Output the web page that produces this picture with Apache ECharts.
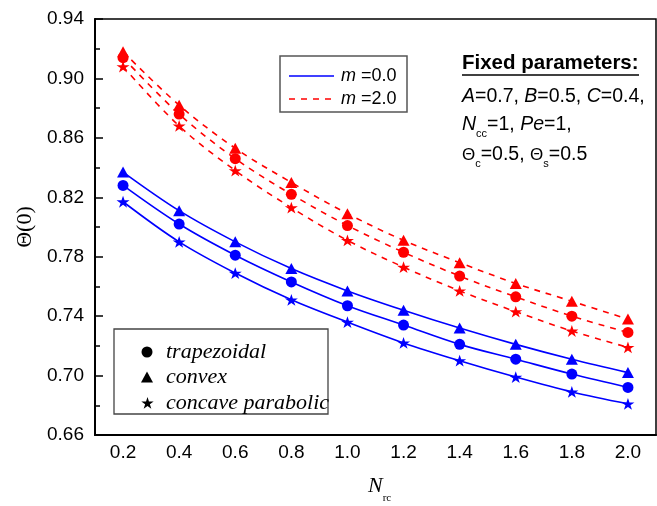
<!DOCTYPE html>
<html><head><meta charset="utf-8">
<script src="https://cdn.jsdelivr.net/npm/echarts@6/dist/echarts.min.js"></script>
<style>html,body{margin:0;padding:0;background:#fff}#c{width:657px;height:506px}</style>
</head><body><div id="c"></div>
<script>
// ---- data ----
const nrc = [0.2, 0.4, 0.6, 0.8, 1.0, 1.2, 1.4, 1.6, 1.8, 2.0];
const m0Convex      = [0.837, 0.811, 0.790, 0.772, 0.757, 0.744, 0.732, 0.721, 0.711, 0.702];
const m0Trapezoidal = [0.828, 0.802, 0.781, 0.763, 0.747, 0.734, 0.721, 0.711, 0.701, 0.692];
const m0Concave     = [0.817, 0.790, 0.769, 0.751, 0.736, 0.722, 0.710, 0.699, 0.689, 0.681];
const m2Convex      = [0.918, 0.882, 0.853, 0.830, 0.809, 0.791, 0.776, 0.762, 0.750, 0.738];
const m2Trapezoidal = [0.914, 0.876, 0.846, 0.822, 0.801, 0.783, 0.767, 0.753, 0.740, 0.729];
const m2Concave     = [0.908, 0.868, 0.838, 0.813, 0.791, 0.773, 0.757, 0.743, 0.730, 0.719];
const yTicks = [0.66, 0.70, 0.74, 0.78, 0.82, 0.86, 0.90, 0.94];
const xLabels = nrc.map(v => v.toFixed(1));

const STAR = 'path://M0,-1 L0.2245,-0.309 L0.951,-0.309 L0.3633,0.118 L0.5878,0.809 L0,0.382 L-0.5878,0.809 L-0.3633,0.118 L-0.951,-0.309 L-0.2245,-0.309 Z';
const BLUE = '#0000ff', RED = '#ff0000';
const sans = '"Liberation Sans", Arial, sans-serif';
const serif = '"Liberation Serif", "Times New Roman", serif';

function mk(name, data, color, dashed, symbol, size) {
  return {
    name, type: 'line', data, smooth: 0.35,
    symbol, symbolSize: size, symbolKeepAspect: true, showSymbol: true,
    itemStyle: {color: color, borderWidth: 0},
    lineStyle: {color: color, width: 1.6, type: dashed ? [6, 6] : 'solid'},
    emphasis: {disabled: true}, animation: false
  };
}

// lay out text runs (for subscripts) as graphic text pieces
const mctx = document.createElement('canvas').getContext('2d');
function runs(x, y, parts) {
  let cx = x; const out = [];
  parts.forEach(p => {
    mctx.font = p.font;
    const w = mctx.measureText(p.t).width;
    out.push({type: 'text', x: cx, y: y + (p.dy || 0), z: 101,
      style: {text: p.t, font: p.font, fill: '#000', verticalAlign: 'middle', align: 'left'}});
    cx += w + (p.gap || 0);
  });
  return out;
}
function starPts(cx, cy, R) {
  const pts = [];
  for (let i = 0; i < 10; i++) {
    const a = -Math.PI / 2 + i * Math.PI / 5, r = i % 2 ? R * 0.382 : R;
    pts.push([cx + r * Math.cos(a), cy + r * Math.sin(a)]);
  }
  return pts;
}

const R19 = '19.5px ' + sans, I19 = 'italic 19.5px ' + sans, S10 = '11px ' + sans, T17 = '17px ' + sans;

const chart = echarts.init(document.getElementById('c'), null, {renderer: 'canvas'});
chart.setOption({
  backgroundColor: '#fff',
  animation: false,
  grid: {left: 95, right: 1, top: 19, bottom: 71, show: true, borderColor: '#000', borderWidth: 1.5, backgroundColor: 'transparent'},
  xAxis: [{
    type: 'category', data: xLabels, boundaryGap: true, position: 'bottom',
    axisLine: {lineStyle: {color: '#000', width: 2}},
    axisTick: {alignWithLabel: true, inside: true, length: 6, lineStyle: {color: '#000', width: 1.5}},
    axisLabel: {fontSize: 19, color: '#000', fontFamily: sans, margin: 8},
    splitLine: {show: false}
  }, {
    type: 'category', data: xLabels, boundaryGap: true, position: 'bottom',
    axisLine: {show: false},
    axisTick: {alignWithLabel: false, inside: true, length: 3, lineStyle: {color: '#000', width: 1.5}},
    axisLabel: {show: false}, splitLine: {show: false}
  }],
  yAxis: {
    type: 'value', min: yTicks[0], max: yTicks[yTicks.length - 1], interval: 0.04,
    axisLine: {show: true, lineStyle: {color: '#000', width: 2}},
    axisTick: {show: true, inside: true, length: 8, lineStyle: {color: '#000', width: 1.5}},
    minorTick: {show: true, splitNumber: 2, length: 5, lineStyle: {color: '#000', width: 1.5}},
    splitLine: {show: false}, minorSplitLine: {show: false},
    axisLabel: {fontSize: 19, color: '#000', fontFamily: sans, margin: 11, formatter: v => v.toFixed(2)},
    name: 'Θ(0)', nameLocation: 'middle', nameGap: 54, nameRotate: 90,
    nameTextStyle: {fontFamily: serif, fontSize: 22, color: '#000'}
  },
  series: [
    mk('m0 trapezoidal', m0Trapezoidal, BLUE, false, 'circle', 11),
    mk('m0 convex', m0Convex, BLUE, false, 'triangle', [12, 11]),
    mk('m0 concave', m0Concave, BLUE, false, STAR, [13, 12.4]),
    mk('m2 trapezoidal', m2Trapezoidal, RED, true, 'circle', 11),
    mk('m2 convex', m2Convex, RED, true, 'triangle', [12, 11]),
    mk('m2 concave', m2Concave, RED, true, STAR, [13, 12.4])
  ],
  graphic: [].concat(
    [
      // top legend
      {type: 'rect', shape: {x: 280, y: 56, width: 127, height: 56}, style: {fill: '#fff', stroke: '#555', lineWidth: 1.5}, z: 100},
      {type: 'line', shape: {x1: 289, y1: 76, x2: 334, y2: 76}, style: {stroke: BLUE, lineWidth: 1.6}, z: 101},
      {type: 'line', shape: {x1: 289, y1: 99, x2: 334, y2: 99}, style: {stroke: RED, lineWidth: 1.6, lineDash: [6, 6]}, z: 101},
      // fixed parameters title + underline
      {type: 'text', x: 462, y: 63, z: 101, style: {text: 'Fixed parameters:', verticalAlign: 'middle', font: 'bold 20.5px ' + sans, fill: '#000'}},
      {type: 'line', shape: {x1: 462, y1: 75, x2: 639, y2: 75}, style: {stroke: '#000', lineWidth: 1.6}, z: 101},
      // bottom legend
      {type: 'rect', shape: {x: 114, y: 329, width: 214, height: 85}, style: {fill: '#fff', stroke: '#444', lineWidth: 1.3}, z: 100},
      {type: 'circle', shape: {cx: 147, cy: 352, r: 5.5}, style: {fill: '#000'}, z: 101},
      {type: 'polygon', shape: {points: [[147, 371.5], [153, 382.5], [141, 382.5]]}, style: {fill: '#000'}, z: 101},
      {type: 'polygon', shape: {points: starPts(147.5, 403.5, 6.5)}, style: {fill: '#000'}, z: 101},
      {type: 'text', x: 166, y: 352, z: 101, style: {text: 'trapezoidal', verticalAlign: 'middle', font: 'italic 22px ' + serif, fill: '#000'}},
      {type: 'text', x: 166, y: 377, z: 101, style: {text: 'convex', verticalAlign: 'middle', font: 'italic 22px ' + serif, fill: '#000'}},
      {type: 'text', x: 166, y: 403, z: 101, style: {text: 'concave parabolic', verticalAlign: 'middle', font: 'italic 22px ' + serif, fill: '#000'}}
    ],
    runs(341, 76, [{t: 'm', font: 'italic 18px ' + sans}, {t: ' =0.0', font: '18px ' + sans}]),
    runs(341, 99, [{t: 'm', font: 'italic 18px ' + sans}, {t: ' =2.0', font: '18px ' + sans}]),
    runs(462, 97, [{t: 'A', font: I19}, {t: '=0.7, ', font: R19}, {t: 'B', font: I19}, {t: '=0.5, ', font: R19}, {t: 'C', font: I19}, {t: '=0.4,', font: R19}]),
    runs(462, 125, [{t: 'N', font: I19}, {t: 'cc', font: S10, dy: 9}, {t: '=1, ', font: R19}, {t: 'Pe', font: I19}, {t: '=1,', font: R19}]),
    runs(462, 155, [{t: 'Θ', font: T17}, {t: 'c', font: S10, dy: 9}, {t: '=0.5, ', font: R19}, {t: 'Θ', font: T17}, {t: 's', font: S10, dy: 9}, {t: '=0.5', font: R19}]),
    // x axis title N_rc
    runs(368, 486, [{t: 'N', font: 'italic 22px ' + serif}, {t: 'rc', font: '11px ' + serif, dy: 12}])
  )
});
</script>
</body></html>
